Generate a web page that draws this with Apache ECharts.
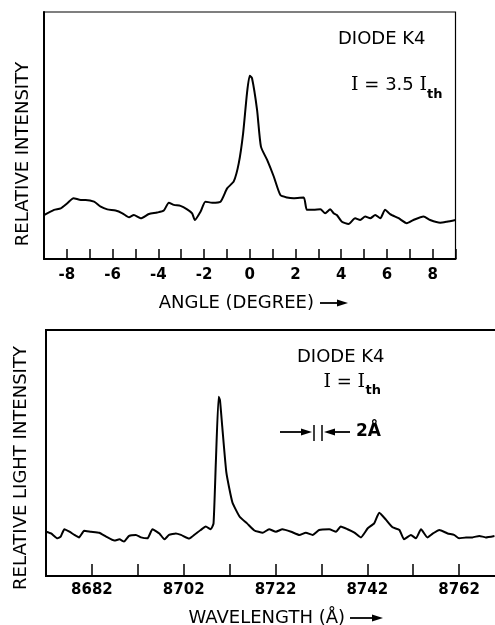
<!DOCTYPE html>
<html>
<head>
<meta charset="utf-8">
<script src="https://cdn.jsdelivr.net/npm/echarts@6/dist/echarts.min.js"></script>
<style>html,body{margin:0;padding:0;background:#fff;}#c{width:495px;height:625px;}</style>
</head>
<body>
<div id="c"></div>
<script>
// ---- Top panel: far-field angular distribution ----
const angle = [-9,-8.56,-8.27,-7.98,-7.71,-7.39,-7.18,-6.81,-6.52,-6.23,-5.87,-5.57,-5.28,-5.07,-4.77,-4.41,-4.05,-3.76,-3.54,-3.32,-3.03,-2.74,-2.52,-2.40,-2.15,-1.94,-1.64,-1.28,-0.99,-0.70,-0.48,-0.29,-0.12,0,0.10,0.32,0.49,0.76,1.05,1.34,1.63,1.92,2.36,2.50,2.79,3.09,3.30,3.52,3.67,3.81,4.03,4.32,4.61,4.83,5.05,5.27,5.49,5.71,5.92,6.14,6.51,6.87,7.16,7.60,7.89,8.33,8.62,9];
const intensity = [17.8,19.9,20.5,22.6,24.6,23.9,23.9,23.2,21.2,20.1,19.6,18.5,16.9,17.8,16.5,18.2,18.8,19.6,22.8,21.9,21.5,20.1,18.5,15.8,19.2,23.2,22.8,23.2,28.6,31.4,38.8,50.9,67.2,74.2,73.2,60.4,45.5,40.1,33.4,25.9,24.9,24.6,24.9,19.9,19.9,20.1,18.5,20.1,18.5,17.8,15.1,14.2,16.5,15.8,17.2,16.5,17.8,16.5,19.9,18.2,16.5,14.5,15.8,17.2,15.8,14.7,15.1,15.8];
const angleTicks = [-8,-6,-4,-2,0,2,4,6,8];

// ---- Bottom panel: spectrum ----
const WL0 = 8672;
const wavelength = [8672.0,8673.1,8674.5,8675.2,8676.0,8677.1,8678.2,8679.2,8680.3,8681.8,8683.6,8685.1,8686.9,8688.0,8689.0,8690.1,8691.6,8692.7,8694.1,8695.2,8696.7,8697.8,8698.8,8700.3,8701.4,8703.2,8704.7,8705.7,8706.8,8707.9,8708.5,8709.0,8709.6,8709.9,8710.4,8711.3,8712.6,8714.2,8715.8,8717.4,8719.2,8720.6,8722.1,8723.5,8725.4,8727.2,8728.6,8730.1,8731.5,8733.7,8735.2,8736.2,8737.7,8739.2,8740.6,8742.1,8743.5,8744.6,8746.1,8747.5,8749.0,8750.0,8751.5,8752.6,8753.7,8755.1,8756.3,8757.7,8759.5,8760.9,8762.0,8763.5,8764.9,8766.4,8767.8,8769.7];
const lightIntensity = [18.0,17.3,15.3,16.0,19.0,18.0,16.7,15.7,18.4,18.0,17.6,16.0,14.4,14.9,14.0,16.3,16.7,15.7,15.3,19.0,17.3,14.9,16.7,17.3,16.7,15.2,17.3,18.7,20.1,19.0,21.4,46.0,72.9,71.5,60.7,42.0,30.0,24.1,21.4,18.5,17.6,19.0,18.0,19.0,18.0,16.7,17.6,16.7,18.7,19.0,18.0,20.1,19.0,17.6,15.7,19.4,21.4,25.7,22.8,19.8,18.7,14.9,16.7,15.3,19.0,15.7,17.3,18.7,17.3,16.7,15.3,15.7,15.7,16.3,15.7,16.3];
const wlTicks = [8682,8702,8722,8742,8762];

const FONT = 'DejaVu Sans';
const chart = echarts.init(document.getElementById('c'), null, {renderer:'canvas'});

const axisLineStyle = {color:'#000', width:2};
const tickLabel = {color:'#000', fontFamily:FONT, fontWeight:'bold', fontSize:15};

function arrowRight(x1, x2, y){
  return [
    {type:'line', shape:{x1:x1, y1:y, x2:x2-6, y2:y}, style:{stroke:'#000', lineWidth:1.8}},
    {type:'polygon', shape:{points:[[x2-11,y-3.5],[x2,y],[x2-11,y+3.5]]}, style:{fill:'#000'}}
  ];
}
function arrowLeft(x1, x2, y){ // tip at x1
  return [
    {type:'line', shape:{x1:x1+6, y1:y, x2:x2, y2:y}, style:{stroke:'#000', lineWidth:1.8}},
    {type:'polygon', shape:{points:[[x1+11,y-3.5],[x1,y],[x1+11,y+3.5]]}, style:{fill:'#000'}}
  ];
}
const txt = (x,y,text,extra) => ({type:'text', x:x, y:y, style:Object.assign({text:text, fill:'#000', font:'18px "'+FONT+'"', textAlign:'left', textVerticalAlign:'middle'}, extra||{})});
const richI = {s:{fontFamily:'DejaVu Serif', fontSize:19, fill:'#000'}, n:{fontFamily:FONT, fontSize:18, fill:'#000'}};

const option = {
  animation:false,
  backgroundColor:'#fff',
  grid:[
    {left:44, top:12, width:411.5, height:247, show:true, borderColor:'#000', borderWidth:1.2, backgroundColor:'transparent', containLabel:false, outerBoundsMode:'none'},
    {left:46, top:330, width:459, height:246, show:true, borderColor:'#000', borderWidth:2, backgroundColor:'transparent', containLabel:false, outerBoundsMode:'none'}
  ],
  xAxis:[
    {gridIndex:0, type:'value', min:-9, max:9, interval:1,
      axisLine:{lineStyle:axisLineStyle}, axisTick:{inside:true, length:10, lineStyle:{color:'#000', width:1.5}},
      splitLine:{show:false},
      axisLabel:Object.assign({margin:9, formatter:v => angleTicks.indexOf(v) >= 0 ? (v<0 ? '-'+Math.abs(v) : String(v)) : ''}, tickLabel)},
    {gridIndex:1, type:'value', min:0, max:100, interval:10,
      axisLine:{lineStyle:axisLineStyle}, axisTick:{inside:true, length:12, lineStyle:{color:'#000', width:1.5}},
      splitLine:{show:false},
      axisLabel:Object.assign({margin:7, formatter:v => wlTicks.indexOf(Math.round(v+WL0)) >= 0 ? String(Math.round(v+WL0)) : ''}, tickLabel)}
  ],
  yAxis:[
    {gridIndex:0, type:'value', min:0, max:100, axisLine:{show:true, onZero:false, lineStyle:axisLineStyle}, axisTick:{show:false}, axisLabel:{show:false}, splitLine:{show:false}},
    {gridIndex:1, type:'value', min:0, max:100, axisLine:{show:true, onZero:false, lineStyle:axisLineStyle}, axisTick:{show:false}, axisLabel:{show:false}, splitLine:{show:false}}
  ],
  series:[
    {type:'line', xAxisIndex:0, yAxisIndex:0, showSymbol:false, smooth:0.2,
      lineStyle:{color:'#000', width:2}, data:angle.map((a,i)=>[a, intensity[i]])},
    {type:'line', xAxisIndex:1, yAxisIndex:1, showSymbol:false, smooth:0.15,
      lineStyle:{color:'#000', width:2}, data:wavelength.map((w,i)=>[w-WL0, lightIntensity[i]])}
  ],
  graphic:[
    // top panel texts
    Object.assign(txt(23, 154, 'RELATIVE INTENSITY', {textAlign:'center'}), {rotation:Math.PI/2}),
    txt(338, 39, 'DIODE K4'),
    {type:'text', x:427, y:85, style:{text:'{s|I}{n| = 3.5 }{s|I}', rich:richI, textAlign:'right', textVerticalAlign:'middle'}},
    txt(427, 95, 'th', {font:'bold 13px "'+FONT+'"'}),
    txt(314, 303, 'ANGLE (DEGREE)', {textAlign:'right'}),
    ...arrowRight(320, 348, 303),
    // bottom panel texts
    Object.assign(txt(21, 468, 'RELATIVE LIGHT INTENSITY', {textAlign:'center'}), {rotation:Math.PI/2}),
    txt(297, 357, 'DIODE K4'),
    {type:'text', x:365, y:382.5, style:{text:'{s|I}{n| = }{s|I}', rich:richI, textAlign:'right', textVerticalAlign:'middle'}},
    txt(365.5, 391, 'th', {font:'bold 13px "'+FONT+'"'}),
    ...arrowRight(280, 312, 432),
    {type:'line', shape:{x1:314, y1:425, x2:314, y2:441}, style:{stroke:'#000', lineWidth:1.5}},
    {type:'line', shape:{x1:322, y1:425, x2:322, y2:441}, style:{stroke:'#000', lineWidth:1.5}},
    ...arrowLeft(324, 350, 432),
    txt(356, 432, '2Å', {font:'bold 17px "'+FONT+'"'}),
    txt(345, 618, 'WAVELENGTH (Å)', {textAlign:'right'}),
    ...arrowRight(350, 383, 618)
  ]
};
chart.setOption(option);
</script>
</body>
</html>
